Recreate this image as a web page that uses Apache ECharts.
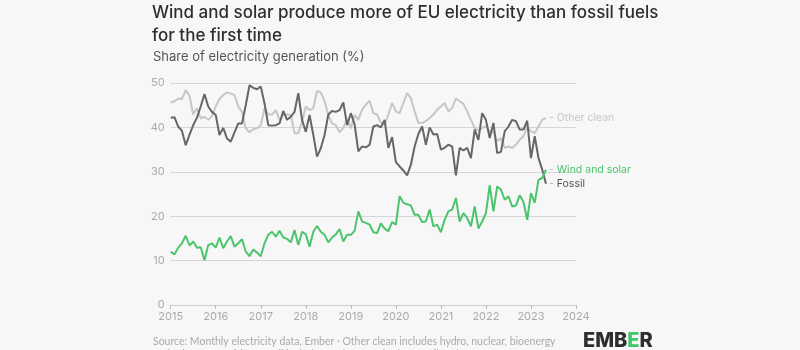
<!DOCTYPE html>
<html>
<head>
<meta charset="utf-8">
<script src="https://cdn.jsdelivr.net/npm/echarts@6/dist/echarts.min.js"></script>
<style>
  html, body { margin: 0; padding: 0; background: #f7f7f7; }
  #chart { width: 800px; height: 350px; }
</style>
</head>
<body>
<div id="chart"></div>
<script>
// monthly shares (%), Jan 2015 .. May 2023
var startYear = 2015;
var windSolar = [
  12.0, 11.4, 12.9, 13.9, 15.6, 13.4, 14.3, 12.9, 13.0, 10.1, 13.5, 13.9,
  12.9, 15.2, 12.8, 14.3, 15.5, 13.1, 13.9, 14.8, 12.0, 11.0, 12.5, 11.8,
  11.0, 13.9, 15.8, 16.5, 15.4, 16.7, 15.2, 14.9, 14.1, 16.9, 13.5, 16.5,
  15.9, 13.1, 16.5, 17.8, 16.5, 15.8, 14.1, 15.2, 15.9, 17.1, 14.3, 15.8,
  15.8, 16.7, 21.1, 18.8, 18.5, 18.1, 16.4, 16.2, 18.4, 17.2, 16.6, 18.7,
  18.1, 24.5, 23.0, 22.7, 22.4, 20.3, 20.3, 18.7, 18.8, 21.5, 17.7, 18.1,
  16.4, 19.2, 21.1, 21.5, 24.1, 18.8, 20.7, 19.6, 17.7, 22.2, 17.2, 18.8,
  20.7, 27.0, 21.1, 26.7, 26.0, 23.7, 24.5, 22.2, 22.4, 24.7, 23.2, 19.2,
  25.2, 23.0, 28.2, 28.6, 30.5
];
var fossil = [
  42.2, 42.3, 40.2, 39.2, 36.0, 38.3, 40.5, 42.2, 44.7, 47.5, 44.7, 43.5,
  42.8, 38.3, 39.9, 37.5, 36.8, 38.9, 40.9, 40.9, 45.0, 49.5, 48.9, 48.6,
  49.2, 45.4, 40.5, 40.4, 40.5, 40.9, 43.7, 41.7, 42.4, 43.5, 47.7, 41.7,
  39.0, 42.8, 38.3, 33.4, 35.3, 38.3, 42.9, 43.7, 43.5, 43.9, 45.6, 40.5,
  43.2, 40.7, 34.6, 35.7, 35.5, 36.1, 40.2, 40.5, 40.0, 41.7, 35.4, 37.8,
  32.2, 31.2, 30.3, 29.2, 31.6, 35.7, 38.5, 40.2, 36.1, 40.0, 38.4, 38.5,
  35.0, 35.4, 36.1, 35.7, 29.2, 35.4, 34.8, 35.4, 33.1, 39.5, 37.2, 43.2,
  41.7, 37.6, 41.0, 34.2, 34.5, 39.1, 40.2, 41.7, 41.4, 39.5, 39.5, 41.5,
  33.1, 38.0, 33.1, 30.5, 27.3
];
var otherClean = [
  45.6, 45.9, 46.5, 46.4, 48.4, 47.1, 42.9, 44.3, 42.0, 42.4, 41.7, 42.6,
  44.7, 46.4, 47.3, 47.9, 47.6, 47.3, 44.7, 43.5, 39.8, 38.9, 39.6, 39.8,
  40.5, 44.3, 42.9, 42.9, 43.9, 41.7, 42.8, 42.9, 42.8, 38.7, 38.7, 41.3,
  44.7, 43.9, 44.3, 48.2, 47.9, 45.9, 42.8, 40.9, 40.5, 38.9, 39.9, 42.0,
  39.8, 42.8, 41.7, 44.0, 45.1, 46.0, 43.2, 42.9, 41.0, 40.6, 42.9, 45.5,
  43.6, 43.2, 45.5, 47.7, 46.6, 43.6, 41.0, 41.0, 41.4, 42.1, 42.9, 44.0,
  44.7, 45.5, 43.6, 44.4, 46.5, 45.9, 45.3, 43.6, 41.7, 39.9, 39.3, 39.9,
  40.2, 39.1, 39.1, 36.9, 37.6, 35.4, 35.7, 35.4, 36.1, 37.2, 38.0, 40.2,
  39.1, 38.7, 40.2, 41.7, 42.1
];
var yearTicks = [2015, 2016, 2017, 2018, 2019, 2020, 2021, 2022, 2023, 2024];

function toPoints(arr) {
  var out = [];
  for (var i = 0; i < arr.length; i++) {
    out.push([startYear + i / 12, arr[i]]);
  }
  return out;
}

var chart = echarts.init(document.getElementById('chart'));

// line with a "- name" label at its last point
var lineSeries = function (name, data, color, labelColor) {
  return {
    name: name,
    type: 'line',
    data: toPoints(data),
    showSymbol: false,
    symbol: 'none',
    lineStyle: { color: color, width: 2 },
    itemStyle: { color: color },
    endLabel: {
      show: true,
      formatter: '{d|-} ' + name,
      color: labelColor,
      fontSize: 10.5,
      fontFamily: 'Inter',
      distance: 3,
      rich: { d: { color: '#bbb', fontSize: 10.5, fontFamily: 'Inter' } }
    },
    emphasis: { disabled: true },
    animation: false
  };
};

chart.setOption({
  backgroundColor: '#f7f7f7',
  animation: false,
  title: [
    {
      text: 'Wind and solar produce more of EU electricity than fossil fuels\nfor the first time',
      left: 147,
      top: -4,
      textStyle: { fontSize: 17, lineHeight: 23, fontWeight: 500, color: '#2e2e2e', fontFamily: 'Inter' }
    },
    {
      text: 'Share of electricity generation (%)',
      left: 148,
      top: 46,
      textStyle: { fontSize: 13, fontWeight: 400, color: '#555', fontFamily: 'Inter' }
    },
    {
      text: 'Source: Monthly electricity data, Ember \u00b7 Other clean includes hydro, nuclear, bioenergy\nand other renewables; Fossil includes coal, gas and other fossil fuels',
      left: 148,
      top: 330,
      textStyle: { fontSize: 10.5, lineHeight: 13, fontWeight: 400, color: '#aaa', fontFamily: 'Lato' }
    }
  ],
  graphic: [
    {
      type: 'text',
      left: 583,
      top: 331,
      style: {
        text: '{d|EMB}{g|E}{d|R}',
        rich: {
          d: { fontSize: 20, fontWeight: 800, fill: '#2e2e2e', fontFamily: 'Inter' },
          g: { fontSize: 20, fontWeight: 800, fill: '#3ec66b', fontFamily: 'Inter' }
        }
      }
    }
  ],
  grid: { left: 170.7, right: 224, top: 83, bottom: 45, containLabel: false },
  xAxis: {
    type: 'value',
    min: 2015,
    max: 2024,
    interval: 1,
    axisLine: { show: true, lineStyle: { color: '#cfcfcf', width: 1 } },
    axisTick: { show: true, length: 4, lineStyle: { color: '#bbb' } },
    axisLabel: {
      color: '#aaa', fontSize: 11, fontFamily: 'Inter', margin: 6,
      formatter: function (v) { return yearTicks.indexOf(v) >= 0 ? String(v) : ''; }
    },
    splitLine: { show: false }
  },
  yAxis: {
    type: 'value',
    min: 0,
    max: 50,
    interval: 10,
    axisLine: { show: false },
    axisTick: { show: false },
    axisLabel: { color: '#aaa', fontSize: 11, fontFamily: 'Inter', margin: 6 },
    splitLine: { show: true, lineStyle: { color: '#d6d6d6', width: 1 } }
  },
  series: [
    lineSeries('Other clean', otherClean, '#c6c6c6', '#c6c6c6'),
    lineSeries('Fossil', fossil, '#666666', '#555555'),
    lineSeries('Wind and solar', windSolar, '#4cc46d', '#4cc46d')
  ]
});
</script>
</body>
</html>
